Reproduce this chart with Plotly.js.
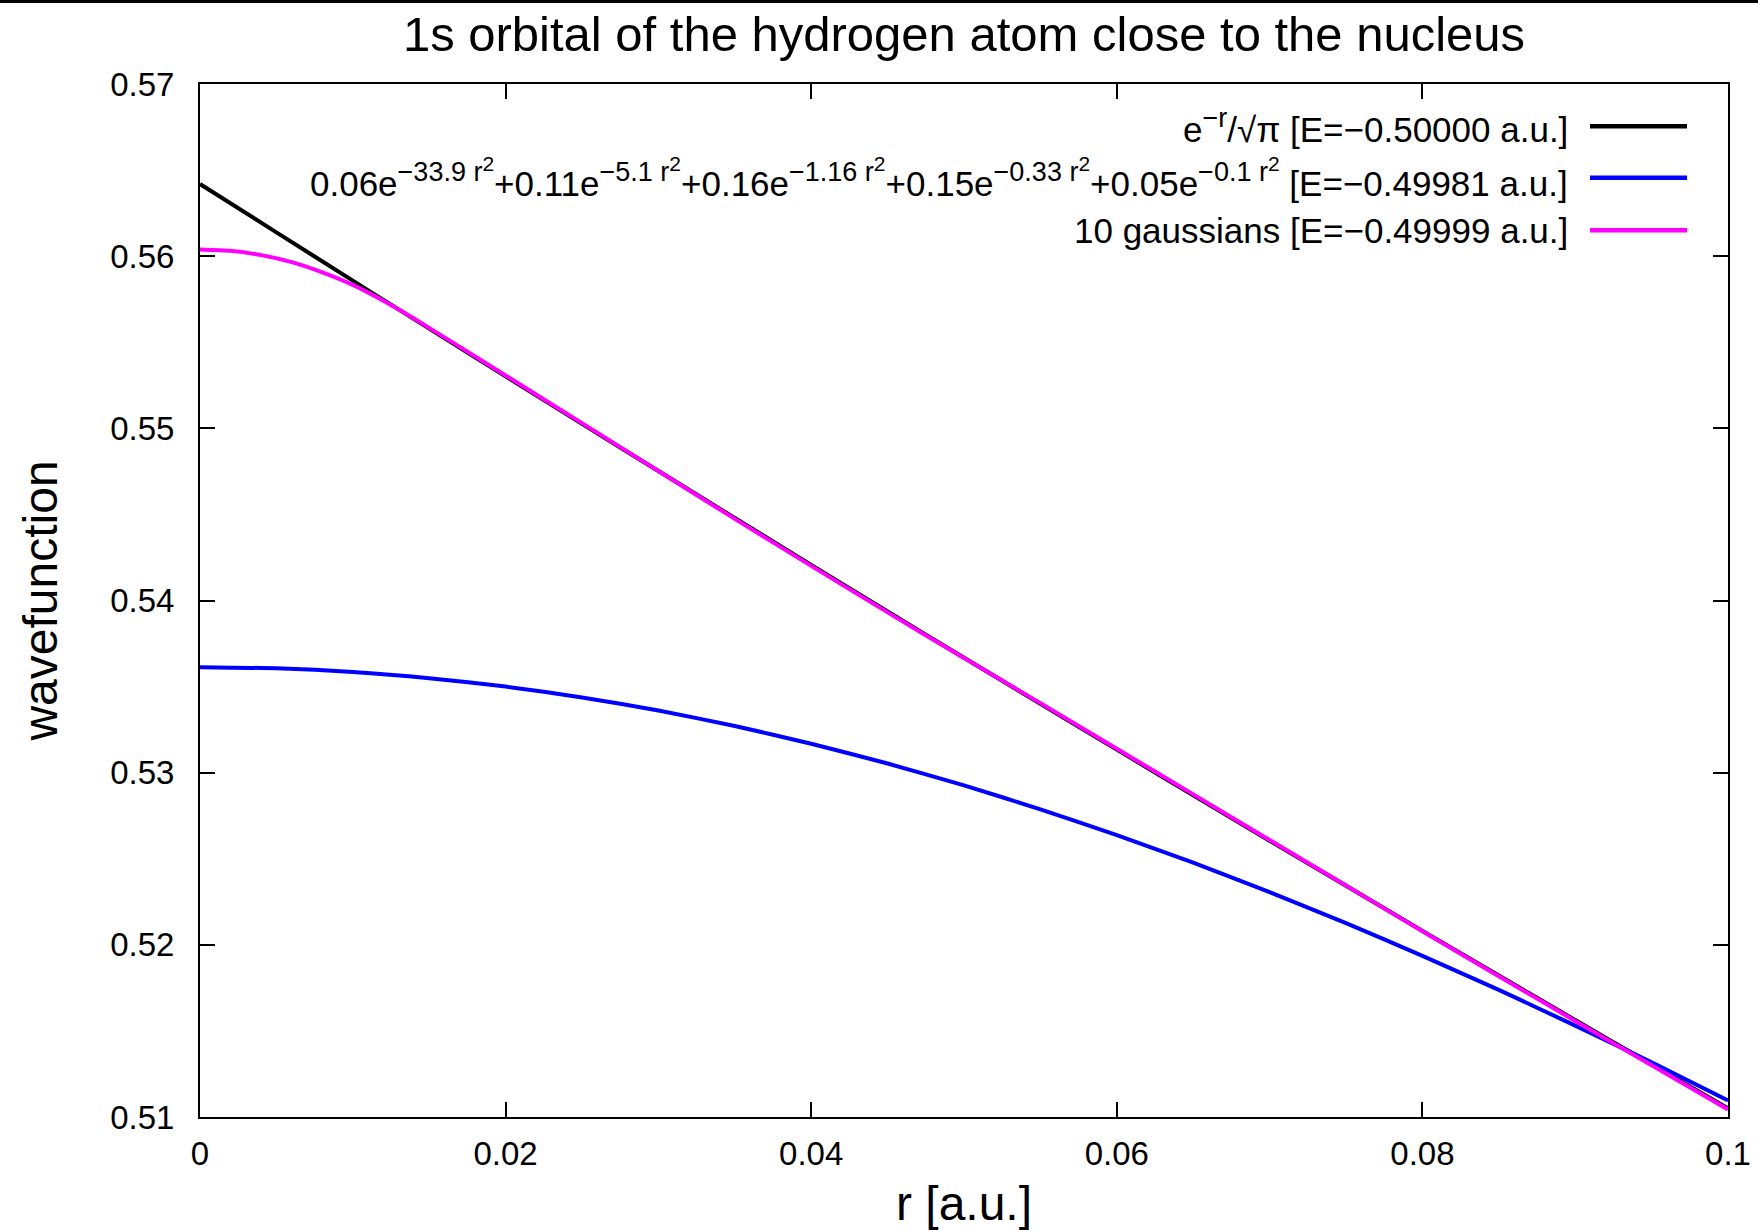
<!DOCTYPE html>
<html>
<head>
<meta charset="utf-8">
<script src="https://cdn.plot.ly/plotly-3.0.1.min.js"></script>
<style>
  html, body { margin: 0; padding: 0; background: #fff; }
  #chart { width: 1758px; height: 1230px; }
  #topbar { position: absolute; left: 0; top: 0; width: 1758px; height: 3px; background: #000; z-index: 10; }
</style>
</head>
<body>
<div id="topbar"></div>
<div id="chart"></div>
<script>
// ---- data ----
const titleText = "1s orbital of the hydrogen atom close to the nucleus";
const xTitle = "r [a.u.]";
const yTitle = "wavefunction";

// exact 1s orbital
const r_exact = [0, 0.005, 0.01, 0.015, 0.02, 0.025, 0.03, 0.035, 0.04, 0.045, 0.05,
                 0.055, 0.06, 0.065, 0.07, 0.075, 0.08, 0.085, 0.09, 0.095, 0.1];
const psi_exact = [0.56419, 0.56138, 0.55858, 0.55579, 0.55302, 0.55026, 0.54752, 0.54479, 0.54207, 0.53936, 0.53667,
                   0.53400, 0.53134, 0.52869, 0.52605, 0.52343, 0.52081, 0.51822, 0.51563, 0.51306, 0.51050];

// 5-gaussian fit
const r_g5 = [0, 0.005, 0.01, 0.015, 0.02, 0.025, 0.03, 0.035, 0.04, 0.045, 0.05,
              0.055, 0.06, 0.065, 0.07, 0.075, 0.08, 0.085, 0.09, 0.095, 0.1];
const psi_g5 = [0.53613, 0.53606, 0.53585, 0.53549, 0.53500, 0.53437, 0.53361, 0.53271, 0.53168, 0.53053, 0.52926,
                0.52787, 0.52637, 0.52477, 0.52306, 0.52126, 0.51936, 0.51738, 0.51531, 0.51318, 0.51096];

// 10-gaussian fit
const r_g10 = [0, 0.002, 0.004, 0.006, 0.008, 0.010, 0.012, 0.014, 0.017, 0.020, 0.025, 0.030, 0.035,
               0.040, 0.045, 0.050, 0.055, 0.060, 0.065, 0.070, 0.075, 0.080, 0.085, 0.090, 0.095, 0.100];
const psi_g10 = [0.56039, 0.56031, 0.56006, 0.55965, 0.55906, 0.55833, 0.55741, 0.55638, 0.55473, 0.55307, 0.55030, 0.54752, 0.54474,
                 0.54201, 0.53931, 0.53666, 0.53404, 0.53139, 0.52874, 0.52609, 0.52345, 0.52079, 0.51818, 0.51558, 0.51300, 0.51044];

// legend texts (gnuplot-style enhanced text: superscripts ~80 %, nested ~62 %)
const SUP1 = "font-size:27px", SUP2 = "font-size:21px";
const gaussTerms = [["0.06", "33.9"], ["+0.11", "5.1"], ["+0.16", "1.16"], ["+0.15", "0.33"], ["+0.05", "0.1"]];
const seriesNames = [
  "e<sup><span style='" + SUP1 + "'>−r</span></sup>/√π [E=−0.50000 a.u.]",
  gaussTerms.map(t => t[0] + "e<sup><span style='" + SUP1 + "'>−" + t[1] + " r</span><sup><span style='" + SUP2 + "'>2</span></sup></sup>").join("")
    + " [E=−0.49981 a.u.]",
  "10 gaussians [E=−0.49999 a.u.]"
];
const seriesColors = ["#000000", "#0000ff", "#ff00ff"];

// ---- chart ----
const FONT = "'Liberation Sans', Arial, Helvetica, sans-serif";
const LW = 4;

const xs = [r_exact, r_g5, r_g10];
const ys = [psi_exact, psi_g5, psi_g10];
const traces = xs.map((x, i) => ({
  x: x, y: ys[i], type: "scatter", mode: "lines", name: seriesNames[i],
  line: { color: seriesColors[i], width: LW, shape: "spline", smoothing: 0.6 },
  showlegend: false, hoverinfo: "skip"
}));

// legend drawn as right-aligned text with line samples on the right (gnuplot style)
const legY = [0.9591, 0.9092, 0.8585];
const annotations = seriesNames.map((t, i) => ({
  text: t, xref: "paper", yref: "paper", x: 0.8965, y: legY[i],
  xanchor: "right", yanchor: "middle", showarrow: false, align: "right",
  font: { family: FONT, size: 35, color: "#000" }
}));
const shapes = seriesColors.map((c, i) => ({
  type: "line", xref: "paper", yref: "paper", x0: 0.9097, x1: 0.9732, y0: legY[i], y1: legY[i],
  line: { color: c, width: 4.5 }
}));

const axisCommon = {
  showline: true, linecolor: "#000", linewidth: 2, mirror: "ticks",
  ticks: "inside", ticklen: 15, tickwidth: 2, tickcolor: "#000",
  showgrid: false, zeroline: false,
  tickfont: { family: FONT, size: 33, color: "#000" }
};

const layout = {
  width: 1758, height: 1230,
  margin: { l: 200, r: 30, t: 84, b: 113, pad: 0 },
  paper_bgcolor: "#fff", plot_bgcolor: "#fff",
  font: { family: FONT, color: "#000" },
  title: {
    text: titleText, font: { family: FONT, size: 49, color: "#000" },
    xref: "paper", x: 0.5, xanchor: "center",
    yref: "container", y: 1 - 34 / 1230, yanchor: "middle"
  },
  xaxis: Object.assign({}, axisCommon, {
    range: [0, 0.1], dtick: 0.02, tick0: 0, ticklabelstandoff: 6,
    title: { text: xTitle, font: { family: FONT, size: 48, color: "#000" }, standoff: 16 }
  }),
  yaxis: Object.assign({}, axisCommon, {
    range: [0.51, 0.57], dtick: 0.01, tick0: 0.51, ticklabelstandoff: 17,
    title: { text: yTitle, font: { family: FONT, size: 48, color: "#000" }, standoff: 37 }
  }),
  annotations: annotations,
  shapes: shapes,
  showlegend: false
};

Plotly.newPlot("chart", traces, layout, { displayModeBar: false, staticPlot: true });
</script>
</body>
</html>
